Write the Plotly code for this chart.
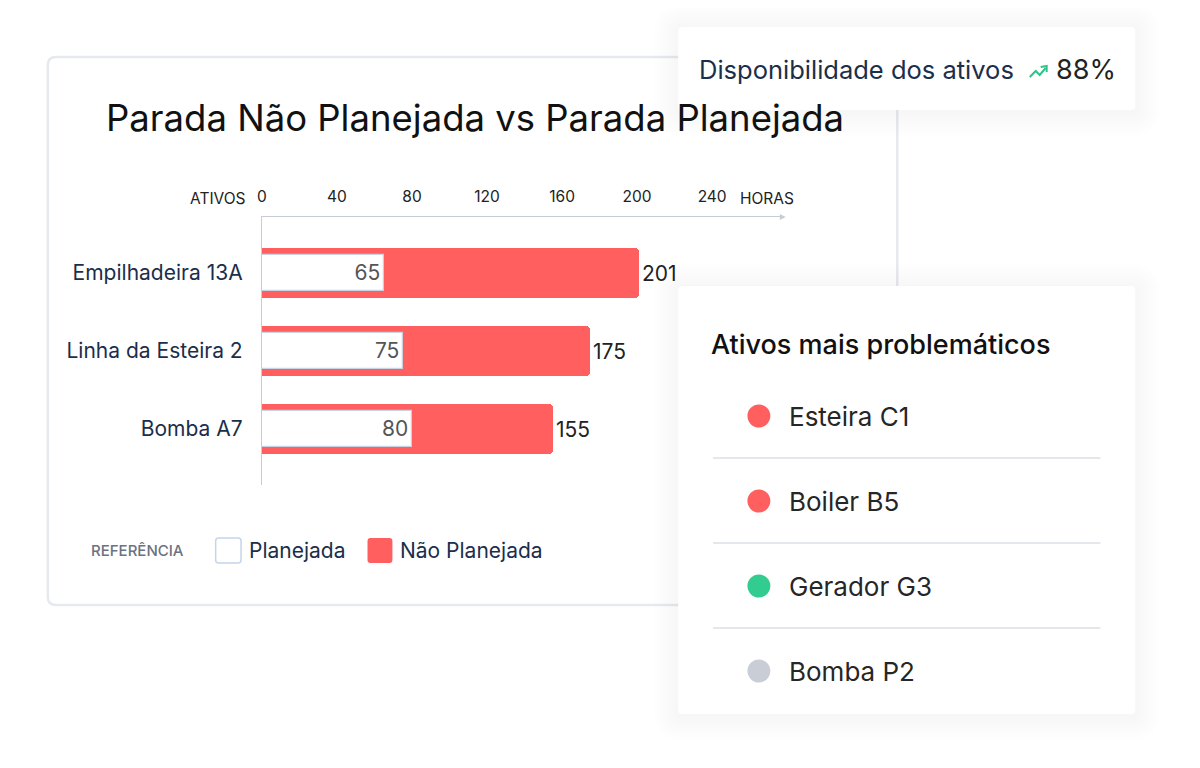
import plotly.graph_objects as go

# data
ativos = ['Empilhadeira 13A', 'Linha da Esteira 2', 'Bomba A7']
planejada = [65, 75, 80]
nao_planejada = [201, 175, 155]
tick_vals = [0, 40, 80, 120, 160, 200, 240]

problem_assets = ['Esteira C1', 'Boiler B5', 'Gerador G3', 'Bomba P2']
problem_colors = ['#FF5F5F', '#FF5F5F', '#33CC90', '#C9CED6']
disponibilidade = 88

W, H = 1200, 768
OFF = 8  # page body margin
PAD = 4  # annotation inner padding
RED = '#FF5F5F'
NAVY = '#1B2E4B'
FONT = 'Inter'


def px(x):
    return (x - OFF) / W


def py(y):
    return 1 - (y - OFF) / H


def rrect(x0, y0, x1, y1, r):
    # rounded rect path in paper coords, input in pixels
    pts = [
        f"M {px(x0 + r)},{py(y0)}",
        f"L {px(x1 - r)},{py(y0)}",
        f"Q {px(x1)},{py(y0)} {px(x1)},{py(y0 + r)}",
        f"L {px(x1)},{py(y1 - r)}",
        f"Q {px(x1)},{py(y1)} {px(x1 - r)},{py(y1)}",
        f"L {px(x0 + r)},{py(y1)}",
        f"Q {px(x0)},{py(y1)} {px(x0)},{py(y1 - r)}",
        f"L {px(x0)},{py(y0 + r)}",
        f"Q {px(x0)},{py(y0)} {px(x0 + r)},{py(y0)}",
        "Z",
    ]
    return " ".join(pts)


shapes = []
annotations = []

# main card
shapes.append(dict(type='path', path=rrect(43, 57, 896, 605, 8), xref='paper', yref='paper',
                   fillcolor='white', line=dict(color='#E6E9EE', width=2.5), layer='below'))


def card(x0, y0, x1, y1):
    for i in range(8, 0, -1):
        d = i * 3
        shapes.append(dict(type='path', path=rrect(x0 - d, y0 - d + 2, x1 + d, y1 + d + 2, 4 + d),
                           xref='paper', yref='paper', fillcolor='rgba(90,100,125,0.009)',
                           line=dict(width=0), layer='below'))
    shapes.append(dict(type='path', path=rrect(x0, y0, x1, y1, 4), xref='paper', yref='paper',
                       fillcolor='white', line=dict(width=0), layer='below'))


card(676, 27, 1135, 110)
card(676, 286, 1135, 714)

# axis arrow head
shapes.append(dict(type='path',
                   path=f"M {px(778)},{py(214)} L {px(784)},{py(217)} L {px(778)},{py(220)} Z",
                   xref='paper', yref='paper', fillcolor='#C8CCD4', line=dict(width=0)))

fig = go.Figure()
fig.add_trace(go.Bar(
    y=ativos, x=nao_planejada, orientation='h', name='Não Planejada',
    marker=dict(color=RED, cornerradius=4, line=dict(width=0)), width=0.64,
    text=nao_planejada, textposition='outside', cliponaxis=False,
    textfont=dict(family=FONT, size=21, color='#222222'), hoverinfo='x+y'))
fig.add_trace(go.Bar(
    y=ativos, x=planejada, orientation='h', name='Planejada',
    marker=dict(color='white', line=dict(color='#C9D3E3', width=1.2)), width=0.45,
    text=planejada, textposition='inside', insidetextanchor='end',
    textfont=dict(family=FONT, size=21, color='#555555'), hoverinfo='x+y'))

# axis side labels
annotations.append(dict(text='ATIVOS', x=px(244), y=py(198), xanchor='right', yanchor='middle',
                        font=dict(family=FONT, size=15.5, color='#222222')))
annotations.append(dict(text='HORAS', x=px(740 - PAD), y=py(198), xanchor='left', yanchor='middle',
                        font=dict(family=FONT, size=15.5, color='#222222')))

# title
annotations.append(dict(text='Parada Não Planejada vs Parada Planejada', x=px(103 - PAD), y=py(118),
                        xanchor='left', yanchor='middle',
                        font=dict(family=FONT, size=36.5, color='#111111')))

# legend
annotations.append(dict(text='REFERÊNCIA', x=px(88 - PAD), y=py(550), xanchor='left', yanchor='middle',
                        font=dict(family=FONT, size=15, color='#6B7280', weight=500)))
shapes.append(dict(type='path', path=rrect(211.5, 538, 237, 563, 3), xref='paper', yref='paper',
                   fillcolor='white', line=dict(color='#C5D5EA', width=1.5)))
annotations.append(dict(text='Planejada', x=px(247 - PAD), y=py(550), xanchor='left', yanchor='middle',
                        font=dict(family=FONT, size=21, color=NAVY)))
shapes.append(dict(type='path', path=rrect(364, 538, 389, 563, 3), xref='paper', yref='paper',
                   fillcolor=RED, line=dict(width=0)))
annotations.append(dict(text='Não Planejada', x=px(399 - PAD), y=py(550), xanchor='left', yanchor='middle',
                        font=dict(family=FONT, size=21, color=NAVY)))

# availability card
annotations.append(dict(text='Disponibilidade dos ativos', x=px(699 - PAD), y=py(70), xanchor='left',
                        yanchor='middle', font=dict(family=FONT, size=25.5, color=NAVY)))
shapes.append(dict(type='path',
                   path=f"M {px(1029)},{py(77)} L {px(1035)},{py(71)} L {px(1039)},{py(75)} L {px(1045)},{py(68)}",
                   xref='paper', yref='paper', line=dict(color='#2BC58A', width=2)))
shapes.append(dict(type='path',
                   path=f"M {px(1040)},{py(67)} L {px(1046)},{py(66)} L {px(1046)},{py(72)}",
                   xref='paper', yref='paper', line=dict(color='#2BC58A', width=2)))
annotations.append(dict(text=f'{disponibilidade}%', x=px(1057 - PAD), y=py(70), xanchor='left',
                        yanchor='middle', font=dict(family=FONT, size=27, color='#222222')))

# problem assets card
annotations.append(dict(text='Ativos mais problemáticos', x=px(711 - PAD), y=py(344), xanchor='left',
                        yanchor='middle', font=dict(family=FONT, size=27, color='#111111', weight=500)))
for i, (name, col) in enumerate(zip(problem_assets, problem_colors)):
    yc = 416 + i * 85
    shapes.append(dict(type='circle', xref='paper', yref='paper',
                       x0=px(757 - 11.5), x1=px(757 + 11.5), y0=py(yc + 11.5), y1=py(yc - 11.5),
                       fillcolor=col, line=dict(width=0)))
    annotations.append(dict(text=name, x=px(789 - PAD), y=py(yc), xanchor='left', yanchor='middle',
                            font=dict(family=FONT, size=26, color='#262626')))
    if i < len(problem_assets) - 1:
        shapes.append(dict(type='line', xref='paper', yref='paper',
                           x0=px(711), x1=px(1100), y0=py(yc + 42), y1=py(yc + 42),
                           line=dict(color='#E4E7EB', width=2)))

for a in annotations:
    a.update(xref='paper', yref='paper', showarrow=False)

fig.update_layout(
    width=W, height=H, autosize=False,
    margin=dict(l=0, r=0, t=0, b=0),
    paper_bgcolor='white', plot_bgcolor='rgba(0,0,0,0)',
    barmode='overlay', showlegend=False, bargap=0,
    shapes=shapes, annotations=annotations,
    xaxis=dict(domain=[px(258), px(782)], range=[0, 278.2], side='top',
               tickvals=tick_vals, ticks='', showgrid=False, zeroline=False,
               showline=True, linecolor='#C8CCD4', linewidth=1.2,
               ticklabelstandoff=8,
               tickfont=dict(family=FONT, size=15.5, color='#222222')),
    yaxis=dict(domain=[py(485), py(217)], range=[2.718, -0.718], showgrid=False,
               zeroline=False, ticks='', showline=True, linecolor='#C8CCD4', linewidth=1.2,
               ticklabelstandoff=14,
               tickfont=dict(family=FONT, size=21, color=NAVY)),
)

fig.write_html("out.html")
